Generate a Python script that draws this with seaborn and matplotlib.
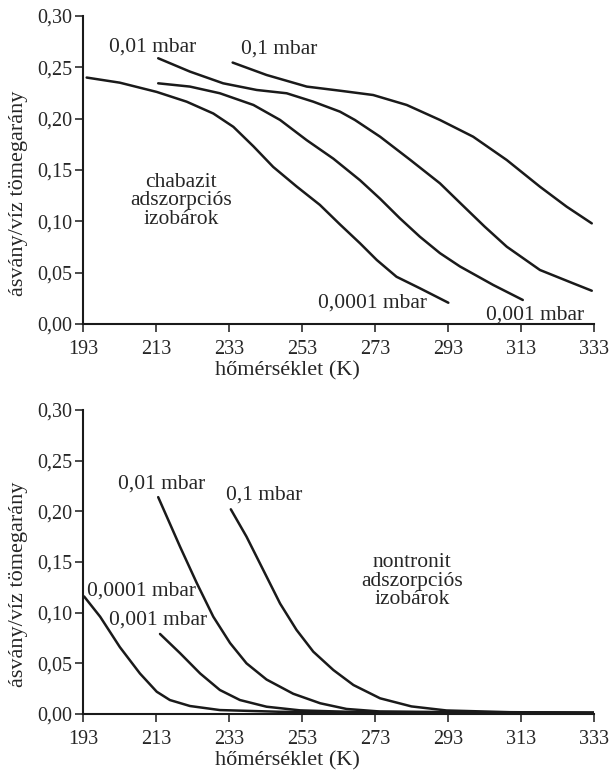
import matplotlib
matplotlib.use("Agg")
import matplotlib.pyplot as plt
import seaborn as sns
import pandas as pd

# ---------------- data ----------------
x_ticks = [193, 213, 233, 253, 273, 293, 313, 333]
y_ticks = [0.00, 0.05, 0.10, 0.15, 0.20, 0.25, 0.30]
y_ticklabels = ["0,00", "0,05", "0,10", "0,15", "0,20", "0,25", "0,30"]
x_label = "hőmérséklet (K)"
y_label = "ásvány/víz tömegarány"

# chabazit (top panel)
cha_0001_T = [194, 203.1, 213.2, 221.4, 228.7, 234.2, 239.7, 245.1, 251.5, 257.9, 263.4,
              268.9, 273.5, 278.9, 285.3, 293.1]
cha_0001_w = [0.240, 0.235, 0.226, 0.2165, 0.205, 0.192, 0.173, 0.153, 0.134, 0.116, 0.097,
              0.0786, 0.0623, 0.046, 0.0348, 0.0207]
cha_001_T = [213.6, 222.3, 230.5, 239.7, 247, 254.3, 261.6, 268.9, 274.4, 279.8, 285.3,
             290.8, 296.3, 305.4, 313.5]
cha_001_w = [0.2344, 0.2312, 0.2247, 0.2133, 0.1987, 0.179, 0.161, 0.140, 0.122, 0.103,
             0.085, 0.069, 0.056, 0.038, 0.0234]
cha_01_T = [213.6, 222.3, 231.4, 240.6, 248.8, 256.1, 263.4, 267.5, 274.4, 282.6, 290.8,
            296.3, 303, 309.1, 318.2, 327.3, 332.4]
cha_01_w = [0.2588, 0.2458, 0.2344, 0.2279, 0.2247, 0.2165, 0.2068, 0.1987, 0.1824, 0.160,
            0.137, 0.118, 0.095, 0.0753, 0.0526, 0.0396, 0.0324]
cha_1_T = [234, 243.3, 254.3, 263.4, 272.5, 281.7, 290.8, 299.9, 309.1, 318.2, 325.5, 332.4]
cha_1_w = [0.2546, 0.2425, 0.2312, 0.2272, 0.223, 0.2133, 0.1987, 0.1824, 0.1597, 0.1337,
           0.1143, 0.098]

# nontronit (bottom panel)
non_0001_T = [193.3, 197.7, 203.1, 208.6, 213.2, 216.8, 222.3, 230.5, 247, 270, 300, 333]
non_0001_w = [0.116, 0.096, 0.066, 0.040, 0.022, 0.0138, 0.0079, 0.0039, 0.0022, 0.0017,
              0.0013, 0.0010]
non_001_T = [214.1, 219.6, 225.1, 230.5, 236, 243.3, 252.5, 265.2, 290, 333]
non_001_w = [0.079, 0.060, 0.040, 0.0237, 0.0138, 0.0072, 0.0036, 0.0022, 0.0016, 0.0011]
non_01_T = [213.6, 219.6, 224.2, 228.7, 233.3, 237.8, 243.3, 250.6, 258, 265.2, 274.3,
            300, 333]
non_01_w = [0.214, 0.165, 0.129, 0.096, 0.070, 0.050, 0.034, 0.020, 0.0106, 0.0050, 0.0025,
            0.0017, 0.0012]
non_1_T = [233.5, 237.8, 242.4, 247, 251.5, 256.1, 261.6, 267.1, 274.4, 283, 292.6, 310, 333]
non_1_w = [0.202, 0.175, 0.142, 0.109, 0.083, 0.0615, 0.0434, 0.0286, 0.0155, 0.0075,
           0.0035, 0.0018, 0.0013]

series_top = [(cha_0001_T, cha_0001_w), (cha_001_T, cha_001_w),
              (cha_01_T, cha_01_w), (cha_1_T, cha_1_w)]
series_bot = [(non_0001_T, non_0001_w), (non_001_T, non_001_w),
              (non_01_T, non_01_w), (non_1_T, non_1_w)]

labels_top = [("0,01 mbar", 212.2, 0.270), ("0,1 mbar", 246.8, 0.2676),
              ("0,0001 mbar", 272.3, 0.020), ("0,001 mbar", 316.8, 0.0088)]
labels_bot = [("0,01 mbar", 214.6, 0.227), ("0,1 mbar", 242.6, 0.216),
              ("0,0001 mbar", 209.1, 0.121), ("0,001 mbar", 213.6, 0.093)]
title_top = ("chabazit\nadszorpciós\nizobárok", 219.8, 0.120)
title_bot = ("nontronit\nadszorpciós\nizobárok", 283.2, 0.131)

# ---------------- plot ----------------
sns.set_theme(style="white")
plt.rcParams["font.family"] = ["Liberation Serif", "DejaVu Serif"]

INK = "#1a1a1a"
TXT = "#262626"

fig = plt.figure(figsize=(6.09, 7.74), dpi=100)
ax_top = fig.add_axes([0.1363, 0.5814, 0.839, 0.398])
ax_bot = fig.add_axes([0.1363, 0.0775, 0.839, 0.3928])

def draw(ax, series, labels, title):
    for T, w in series:
        df = pd.DataFrame({"T": T, "w": w})
        sns.lineplot(data=df, x="T", y="w", ax=ax, color=INK,
                     linewidth=1.8, estimator=None, sort=False)
    for txt, x, y in labels:
        ax.text(x, y, txt, ha="center", va="center", fontsize=15.5, color=TXT)
    ax.text(title[1], title[2], title[0], ha="center", va="center",
            fontsize=15.5, color=TXT, linespacing=0.95)
    ax.set_xlim(193, 333)
    ax.set_ylim(0, 0.30)
    ax.set_xticks(x_ticks)
    ax.set_xticklabels([str(t) for t in x_ticks])
    ax.set_yticks(y_ticks)
    ax.set_yticklabels(y_ticklabels)
    ax.tick_params(axis="both", direction="out", length=6, width=1.1,
                   color=INK, labelsize=14.5, labelcolor=TXT,
                   bottom=True, left=True)
    ax.tick_params(axis="x", pad=5.5)
    ax.tick_params(axis="y", pad=1.5)
    for s in ["top", "right"]:
        ax.spines[s].set_visible(False)
    for s in ["left", "bottom"]:
        ax.spines[s].set_color(INK)
        ax.spines[s].set_linewidth(1.5)
    ax.set_xlabel(x_label, fontsize=16, color=TXT)
    ax.set_ylabel(y_label, fontsize=16, color=TXT)
    ax.xaxis.set_label_coords(0.40, -0.121)
    ax.yaxis.set_label_coords(-0.108, 0.425)
    ax.set_facecolor("white")

draw(ax_top, series_top, labels_top, title_top)
draw(ax_bot, series_bot, labels_bot, title_bot)

fig.savefig("out.png", dpi=100, facecolor="white")
